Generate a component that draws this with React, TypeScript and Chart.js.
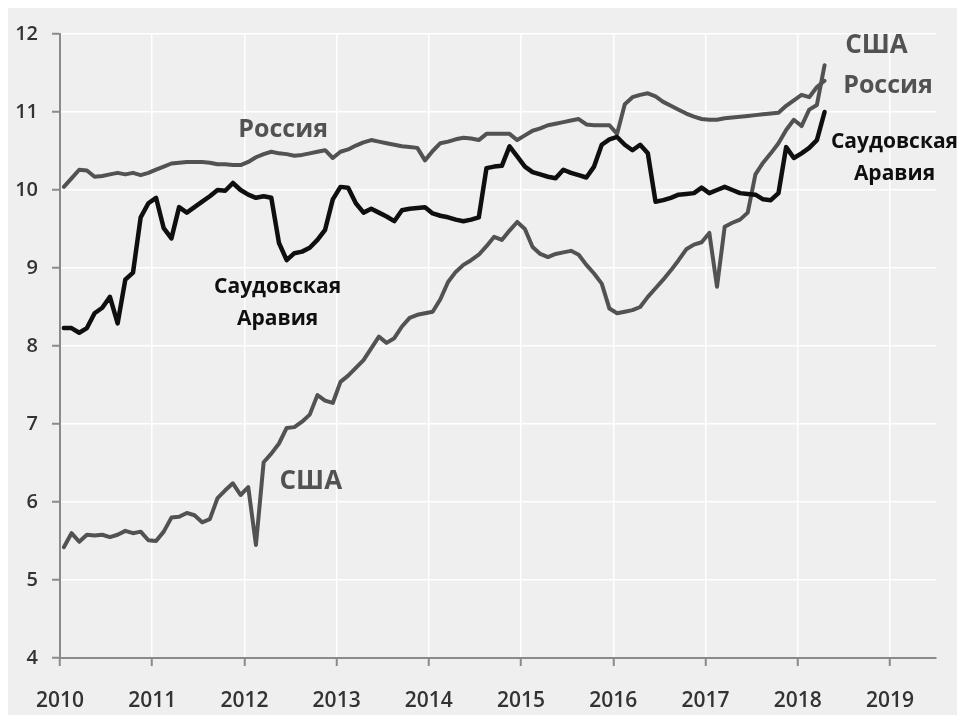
import React, { useEffect, useRef } from "react";
import { Chart, registerables } from "chart.js";

Chart.register(...registerables);

// Monthly observations, January 2010 .. April 2018 (plotted at mid-month)
const monthCount = 100;
const months = Array.from({ length: monthCount }, (_, i) => 2010 + (i + 0.5) / 12);

const yearTicks = [2010, 2011, 2012, 2013, 2014, 2015, 2016, 2017, 2018, 2019];
const valueTicks = [4, 5, 6, 7, 8, 9, 10, 11, 12];

const usa = [
  5.42, 5.6, 5.49, 5.58, 5.57, 5.58, 5.55, 5.58, 5.63, 5.6, 5.62, 5.51,
  5.5, 5.62, 5.8, 5.81, 5.86, 5.83, 5.74, 5.78, 6.05, 6.15, 6.24, 6.09,
  6.19, 5.45, 6.51, 6.62, 6.75, 6.95, 6.96, 7.03, 7.12, 7.37, 7.3, 7.27,
  7.54, 7.62, 7.72, 7.82, 7.97, 8.12, 8.04, 8.1, 8.25, 8.36, 8.4, 8.42,
  8.44, 8.6, 8.82, 8.95, 9.04, 9.1, 9.17, 9.28, 9.4, 9.36, 9.48, 9.59,
  9.5, 9.27, 9.18, 9.14, 9.18, 9.2, 9.22, 9.17, 9.04, 8.93, 8.8, 8.48,
  8.42, 8.44, 8.46, 8.5, 8.63, 8.74, 8.85, 8.97, 9.1, 9.24, 9.3, 9.33,
  9.45, 8.76, 9.53, 9.58, 9.62, 9.71, 10.2, 10.35, 10.47, 10.6, 10.77, 10.9,
  10.82, 11.03, 11.09, 11.6,
];

const russia = [
  10.04, 10.15, 10.26, 10.25, 10.17, 10.18, 10.2, 10.22, 10.2, 10.22, 10.19, 10.22,
  10.26, 10.3, 10.34, 10.35, 10.36, 10.36, 10.36, 10.35, 10.33, 10.33, 10.32, 10.32,
  10.36, 10.42, 10.46, 10.49, 10.47, 10.46, 10.44, 10.45, 10.47, 10.49, 10.51, 10.41,
  10.49, 10.52, 10.57, 10.61, 10.64, 10.62, 10.6, 10.58, 10.56, 10.55, 10.54, 10.38,
  10.5, 10.6, 10.62, 10.65, 10.67, 10.66, 10.64, 10.72, 10.72, 10.72, 10.72, 10.64,
  10.7, 10.76, 10.79, 10.83, 10.85, 10.87, 10.89, 10.91, 10.84, 10.83, 10.83, 10.83,
  10.72, 11.1, 11.19, 11.22, 11.24, 11.2, 11.13, 11.08, 11.03, 10.98, 10.94, 10.91,
  10.9, 10.9, 10.92, 10.93, 10.94, 10.95, 10.96, 10.97, 10.98, 10.99, 11.08, 11.15,
  11.22, 11.19, 11.32, 11.4,
];

const saudi = [
  8.23, 8.23, 8.17, 8.23, 8.42, 8.49, 8.63, 8.29, 8.85, 8.94, 9.65, 9.83,
  9.9, 9.51, 9.38, 9.78, 9.71, 9.78, 9.85, 9.92, 10.0, 9.99, 10.09, 10.0,
  9.94, 9.9, 9.92, 9.9, 9.32, 9.1, 9.19, 9.21, 9.26, 9.36, 9.49, 9.88,
  10.04, 10.03, 9.83, 9.71, 9.76, 9.71, 9.66, 9.6, 9.74, 9.76, 9.77, 9.78,
  9.7, 9.67, 9.65, 9.62, 9.6, 9.62, 9.65, 10.28, 10.3, 10.31, 10.56, 10.43,
  10.3, 10.23, 10.2, 10.17, 10.15, 10.26, 10.22, 10.19, 10.16, 10.3, 10.58, 10.65,
  10.68, 10.58, 10.51, 10.58, 10.47, 9.85, 9.87, 9.9, 9.94, 9.95, 9.96, 10.03,
  9.96, 10.0, 10.04, 10.0, 9.96, 9.95, 9.94, 9.88, 9.87, 9.96, 10.55, 10.41,
  10.47, 10.54, 10.64, 11.0,
];

const GREY = "#525252";
const BLACK = "#0f0f0f";
const FONT = '"Open Sans", "DejaVu Sans", sans-serif';

const seriesLabels = [
  { text: "Россия", year: 2012.42, value: 10.68, color: GREY, size: 25 },
  { text: "Саудовская", year: 2012.36, value: 8.68, color: BLACK, size: 21 },
  { text: "Аравия", year: 2012.36, value: 8.27, color: BLACK, size: 21 },
  { text: "США", year: 2012.72, value: 6.17, color: GREY, size: 26 },
  { text: "США", year: 2018.855, value: 11.76, color: GREY, size: 26 },
  { text: "Россия", year: 2018.98, value: 11.24, color: GREY, size: 25 },
  { text: "Саудовская", year: 2019.05, value: 10.54, color: BLACK, size: 21 },
  { text: "Аравия", year: 2019.05, value: 10.13, color: BLACK, size: 21 },
];

const toPoints = (vals: number[]) => vals.map((v, i) => ({ x: months[i], y: v }));

const labelPlugin = {
  id: "seriesLabels",
  afterDatasetsDraw(chart: any) {
    const { ctx, scales } = chart;
    ctx.save();
    ctx.textAlign = "center";
    ctx.textBaseline = "alphabetic";
    for (const a of seriesLabels) {
      ctx.font = `bold ${a.size}px ${FONT}`;
      ctx.fillStyle = a.color;
      ctx.fillText(a.text, scales.x.getPixelForValue(a.year), scales.y.getPixelForValue(a.value));
    }
    ctx.restore();
  },
};

export default function App() {
  const ref = useRef<HTMLCanvasElement>(null);

  useEffect(() => {
    if (!ref.current) return;
    const lineStyle = {
      pointRadius: 0,
      tension: 0,
      borderJoinStyle: "round" as const,
      borderCapStyle: "round" as const,
      fill: false,
    };
    const chart = new Chart(ref.current, {
      type: "line",
      data: {
        datasets: [
          { label: "Саудовская Аравия", data: toPoints(saudi), borderColor: BLACK, borderWidth: 4.5, ...lineStyle },
          { label: "Россия", data: toPoints(russia), borderColor: GREY, borderWidth: 4, ...lineStyle },
          { label: "США", data: toPoints(usa), borderColor: GREY, borderWidth: 4, ...lineStyle },
        ],
      },
      options: {
        animation: false,
        responsive: false,
        devicePixelRatio: 1,
        layout: { padding: { top: 26, right: 29, left: 0, bottom: 0 } },
        plugins: {
          legend: { display: false },
          tooltip: { enabled: false },
        },
        scales: {
          x: {
            type: "linear",
            min: 2010,
            max: 2019.5,
            afterBuildTicks: (scale: any) => {
              scale.ticks = yearTicks.map((v) => ({ value: v }));
            },
            afterFit: (scale: any) => {
              scale.height = 57;
            },
            grid: {
              color: "#ffffff",
              lineWidth: 1.5,
              tickColor: "#8a8a8a",
              tickLength: 8,
              tickWidth: 2,
            },
            border: { color: "#8a8a8a", width: 2 },
            ticks: {
              color: "#333333",
              font: { family: FONT, size: 21, weight: "600" },
              padding: 22,
              maxRotation: 0,
              autoSkip: false,
              callback: (v: any) => String(v),
            },
          },
          y: {
            type: "linear",
            min: 4,
            max: 12,
            afterBuildTicks: (scale: any) => {
              scale.ticks = valueTicks.map((v) => ({ value: v }));
            },
            afterFit: (scale: any) => {
              scale.width = 52;
            },
            grid: {
              color: "#ffffff",
              lineWidth: 1.5,
              tickColor: "#8a8a8a",
              tickLength: 8,
              tickWidth: 2,
            },
            border: { color: "#8a8a8a", width: 2 },
            ticks: {
              color: "#333333",
              font: { family: FONT, size: 20, weight: "600" },
              padding: 14,
              callback: (v: any) => String(v),
            },
          },
        },
      },
      plugins: [labelPlugin],
    });
    return () => chart.destroy();
  }, []);

  return (
    <div style={{ width: 957, height: 707, background: "#efefef" }}>
      <canvas ref={ref} width={957} height={707} style={{ display: "block", width: 957, height: 707 }} />
    </div>
  );
}
